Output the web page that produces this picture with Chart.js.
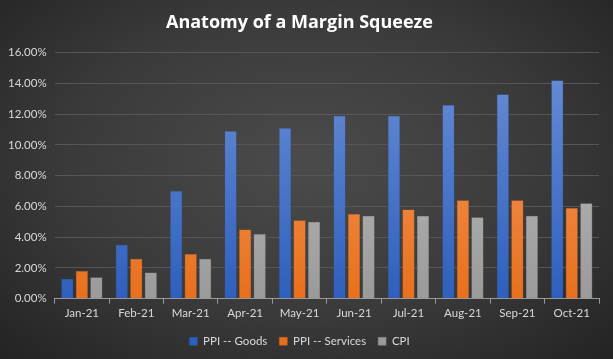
<!DOCTYPE html>
<html>
<head>
<meta charset="utf-8">
<script src="https://cdn.jsdelivr.net/npm/chart.js@4/dist/chart.umd.min.js"></script>
<style>
  html, body { margin: 0; padding: 0; }
  #wrap {
    width: 613px; height: 359px;
    background: radial-gradient(ellipse at 50% 45%, #4b4b4b 0%, #3a3a3a 55%, #232323 100%);
  }
</style>
</head>
<body>
<div id="wrap"><canvas id="myChart" width="613" height="359"></canvas></div>
<script>
const labels = ['Jan-21', 'Feb-21', 'Mar-21', 'Apr-21', 'May-21', 'Jun-21', 'Jul-21', 'Aug-21', 'Sep-21', 'Oct-21']
const ppi_goods = [1.3, 3.5, 7.0, 10.9, 11.1, 11.9, 11.9, 12.6, 13.3, 14.2]
const ppi_services = [1.8, 2.6, 2.9, 4.5, 5.1, 5.5, 5.8, 6.4, 6.4, 5.9]
const cpi = [1.4, 1.7, 2.6, 4.2, 5.0, 5.4, 5.4, 5.3, 5.4, 6.2]

let canva = document.querySelector('#myChart')

// vertical gradient like the excel bars, lighter at the top
function grad(top, bottom) {
  return function (ctx) {
    let area = ctx.chart.chartArea
    if (!area) return bottom
    let g = ctx.chart.ctx.createLinearGradient(0, area.bottom, 0, area.top)
    g.addColorStop(0, bottom)
    g.addColorStop(1, top)
    return g
  }
}

const data = {
  labels: labels,
  datasets: [{
    label: 'PPI -- Goods',
    data: ppi_goods,
    backgroundColor: grad('#6a8fd6', '#2f5fbd'),
    borderColor: '#2f5596',
    borderWidth: 0.5
  }, {
    label: 'PPI -- Services',
    data: ppi_services,
    backgroundColor: grad('#f4a06a', '#e8701c'),
    borderColor: '#b85f1e',
    borderWidth: 0.5
  }, {
    label: 'CPI',
    data: cpi,
    backgroundColor: grad('#c4c4c4', '#9a9a9a'),
    borderColor: '#7f7f7f',
    borderWidth: 0.5
  }]
}

const tickFont = { family: 'Lato', size: 11.5 }

const config = {
  type: 'bar',
  data: data,
  options: {
    responsive: false,
    animation: false,
    categoryPercentage: 0.8,
    barPercentage: 0.84,
    layout: { padding: { left: 0, right: 14, top: 4, bottom: 2 } },
    plugins: {
      title: {
        display: true,
        text: 'Anatomy of a Margin Squeeze',
        color: '#ffffff',
        font: { family: 'Open Sans', size: 18, weight: 'bold' },
        padding: { top: 8, bottom: 19 }
      },
      legend: {
        position: 'bottom',
        labels: {
          color: '#d9d9d9',
          font: tickFont,
          boxWidth: 8,
          boxHeight: 8,
          padding: 12
        }
      },
      tooltip: { enabled: false }
    },
    scales: {
      x: {
        grid: {
          display: true,
          drawOnChartArea: false,
          color: '#9a9a9a',
          tickLength: 5,
          offset: true
        },
        border: { color: '#9a9a9a' },
        ticks: { color: '#d9d9d9', font: tickFont }
      },
      y: {
        min: 0,
        max: 16,
        ticks: {
          stepSize: 2,
          color: '#d9d9d9',
          font: tickFont,
          padding: 8,
          callback: function (v) { return v.toFixed(2) + '%' }
        },
        grid: { color: '#565656', drawTicks: false },
        border: { display: false }
      }
    }
  }
}

new Chart(canva, config)
</script>
</body>
</html>
